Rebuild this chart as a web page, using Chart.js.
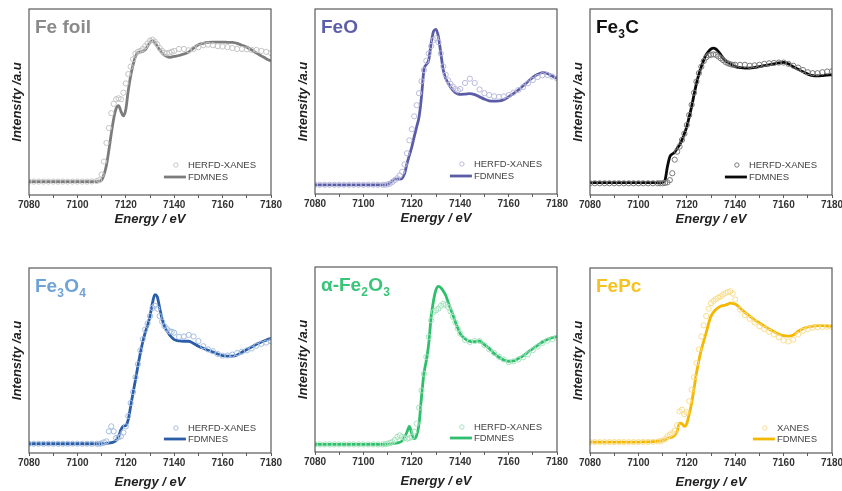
<!DOCTYPE html>
<html>
<head>
<meta charset="utf-8">
<script src="https://cdn.jsdelivr.net/npm/chart.js@4.4.1/dist/chart.umd.min.js"></script>
<style>
  html, body { margin: 0; padding: 0; background: #fff; }
  #wrap { position: relative; width: 842px; height: 491px; overflow: hidden; }
  #wrap canvas { position: absolute; }
</style>
</head>
<body>
<div id="wrap"></div>
<script>
// shared energy grid (eV)
const energy = [
  7080, 7082, 7084, 7086, 7088, 7090, 7092, 7094, 7096, 7098, 7100, 7102, 7104, 7106,
  7108, 7109, 7110, 7111, 7112, 7113, 7114, 7115, 7116, 7117, 7118, 7119, 7120, 7121,
  7122, 7123, 7124, 7125, 7126, 7127, 7128, 7129, 7130, 7131, 7132, 7133, 7134, 7135,
  7136, 7137, 7138, 7139, 7140,
  7142, 7144, 7146, 7148, 7150, 7152, 7154, 7156, 7158, 7160, 7162, 7164, 7166, 7168,
  7170, 7172, 7174, 7176, 7178, 7180
];
const xTicks = [7080, 7100, 7120, 7140, 7160, 7180];

// Fe foil
const feFoilExp = [
  0.072, 0.072, 0.072, 0.072, 0.072, 0.072, 0.072, 0.072, 0.072, 0.072, 0.072, 0.072, 0.072, 0.073,
  0.075, 0.08, 0.11, 0.18, 0.28, 0.36, 0.44, 0.49, 0.515, 0.52, 0.515, 0.55, 0.60, 0.65,
  0.69, 0.73, 0.76, 0.77, 0.775, 0.785, 0.80, 0.815, 0.83, 0.835, 0.825, 0.81, 0.79, 0.775,
  0.765, 0.762, 0.765, 0.77, 0.775,
  0.785, 0.785, 0.778, 0.785, 0.795, 0.805, 0.808, 0.805, 0.80, 0.798, 0.795, 0.79, 0.785, 0.785,
  0.783, 0.78, 0.78, 0.775, 0.77, 0.763
];
const feFoilCalc = [
  0.072, 0.072, 0.072, 0.072, 0.072, 0.072, 0.072, 0.072, 0.072, 0.072, 0.072, 0.072, 0.072, 0.072,
  0.072, 0.074, 0.08, 0.11, 0.16, 0.24, 0.33, 0.41, 0.465, 0.48, 0.45, 0.425, 0.46, 0.56,
  0.64, 0.70, 0.745, 0.765, 0.77, 0.772, 0.78, 0.80, 0.82, 0.83, 0.82, 0.80, 0.78, 0.763,
  0.752, 0.745, 0.74, 0.742, 0.745,
  0.75, 0.758, 0.768, 0.79, 0.808, 0.815, 0.82, 0.822, 0.822, 0.822, 0.821, 0.82, 0.815, 0.805,
  0.795, 0.78, 0.763, 0.748, 0.733, 0.72
];

// FeO
const feoExp = [
  0.05, 0.05, 0.05, 0.05, 0.05, 0.05, 0.05, 0.05, 0.05, 0.05, 0.05, 0.05, 0.05, 0.05,
  0.05, 0.05, 0.052, 0.056, 0.065, 0.075, 0.085, 0.10, 0.12, 0.16, 0.22, 0.29, 0.35, 0.42,
  0.48, 0.545, 0.61, 0.67, 0.72, 0.76, 0.80, 0.833, 0.842, 0.82, 0.76, 0.69, 0.645, 0.615,
  0.595, 0.58, 0.568, 0.56, 0.568,
  0.60, 0.623, 0.60, 0.565, 0.545, 0.535, 0.528, 0.525, 0.528, 0.535, 0.548, 0.562, 0.578, 0.598,
  0.616, 0.632, 0.642, 0.643, 0.635, 0.625
];
const feoCalc = [
  0.049, 0.049, 0.049, 0.049, 0.049, 0.049, 0.049, 0.049, 0.049, 0.049, 0.049, 0.049, 0.049, 0.049,
  0.049, 0.05, 0.052, 0.06, 0.072, 0.08, 0.082, 0.08, 0.085, 0.11, 0.163, 0.21, 0.254, 0.31,
  0.362, 0.417, 0.525, 0.67, 0.70, 0.725, 0.815, 0.88, 0.89, 0.85, 0.76, 0.67, 0.625, 0.60,
  0.578, 0.56, 0.548, 0.541, 0.538,
  0.54, 0.543, 0.537, 0.525, 0.513, 0.504, 0.502, 0.503, 0.51, 0.525, 0.543, 0.562, 0.585, 0.608,
  0.63, 0.647, 0.656, 0.652, 0.638, 0.625
];

// Fe3C
const fe3cExp = [
  0.063, 0.063, 0.063, 0.063, 0.063, 0.063, 0.063, 0.063, 0.063, 0.063, 0.063, 0.063, 0.063, 0.063,
  0.063, 0.063, 0.063, 0.065, 0.068, 0.08, 0.117, 0.19, 0.233, 0.26, 0.296, 0.33, 0.376, 0.43,
  0.485, 0.55, 0.61, 0.655, 0.69, 0.72, 0.74, 0.75, 0.754, 0.756, 0.754, 0.745, 0.735, 0.725,
  0.715, 0.708, 0.703, 0.70, 0.70,
  0.70, 0.70, 0.695, 0.697, 0.70, 0.705, 0.708, 0.71, 0.712, 0.712, 0.705, 0.695, 0.685, 0.672,
  0.66, 0.655, 0.655, 0.66, 0.664, 0.665
];
const fe3cCalc = [
  0.066, 0.066, 0.066, 0.066, 0.066, 0.066, 0.066, 0.066, 0.066, 0.066, 0.066, 0.066, 0.066, 0.066,
  0.066, 0.066, 0.068, 0.08, 0.153, 0.206, 0.22, 0.23, 0.25, 0.27, 0.296, 0.33, 0.368, 0.42,
  0.476, 0.54, 0.60, 0.65, 0.69, 0.725, 0.754, 0.772, 0.785, 0.79, 0.785, 0.772, 0.755, 0.736,
  0.722, 0.712, 0.705, 0.697, 0.69,
  0.685, 0.682, 0.682, 0.685, 0.69, 0.695, 0.70, 0.705, 0.71, 0.713, 0.705, 0.69, 0.676, 0.662,
  0.65, 0.642, 0.64, 0.642, 0.645, 0.646
];

// Fe3O4
const fe3o4Exp = [
  0.05, 0.05, 0.05, 0.05, 0.05, 0.05, 0.05, 0.05, 0.05, 0.05, 0.05, 0.05, 0.05, 0.05,
  0.05, 0.05, 0.052, 0.058, 0.063, 0.117, 0.144, 0.117, 0.081, 0.085, 0.09, 0.11, 0.144, 0.20,
  0.27, 0.33, 0.41, 0.48, 0.555, 0.615, 0.667, 0.70, 0.74, 0.784, 0.796, 0.78, 0.74, 0.71,
  0.685, 0.67, 0.658, 0.655, 0.65,
  0.628, 0.63, 0.638, 0.63, 0.605, 0.577, 0.56, 0.55, 0.535, 0.526, 0.527, 0.532, 0.54, 0.548,
  0.555, 0.565, 0.58, 0.59, 0.597, 0.604
];
const fe3o4Calc = [
  0.05, 0.05, 0.05, 0.05, 0.05, 0.05, 0.05, 0.05, 0.05, 0.05, 0.05, 0.05, 0.05, 0.05,
  0.05, 0.05, 0.05, 0.05, 0.052, 0.054, 0.056, 0.06, 0.068, 0.09, 0.126, 0.145, 0.148, 0.18,
  0.252, 0.325, 0.396, 0.47, 0.54, 0.60, 0.65, 0.69, 0.74, 0.81, 0.856, 0.845, 0.784, 0.725,
  0.685, 0.66, 0.64, 0.625, 0.613,
  0.606, 0.604, 0.604, 0.592, 0.577, 0.566, 0.555, 0.545, 0.535, 0.526, 0.524, 0.524, 0.53, 0.545,
  0.56, 0.573, 0.588, 0.60, 0.61, 0.62
];

// alpha-Fe2O3
const fe2o3Exp = [
  0.041, 0.041, 0.041, 0.041, 0.041, 0.041, 0.041, 0.041, 0.041, 0.041, 0.041, 0.041, 0.041, 0.041,
  0.041, 0.042, 0.045, 0.05, 0.054, 0.065, 0.081, 0.09, 0.081, 0.075, 0.072, 0.075, 0.081, 0.11,
  0.153, 0.24, 0.333, 0.423, 0.514, 0.622, 0.712, 0.757, 0.766, 0.775, 0.79, 0.80, 0.795, 0.784,
  0.76, 0.73, 0.70, 0.667, 0.64,
  0.606, 0.595, 0.60, 0.60, 0.577, 0.555, 0.535, 0.515, 0.50, 0.486, 0.49, 0.50, 0.512, 0.528,
  0.55, 0.57, 0.59, 0.602, 0.61, 0.618
];
const fe2o3Calc = [
  0.041, 0.041, 0.041, 0.041, 0.041, 0.041, 0.041, 0.041, 0.041, 0.041, 0.041, 0.041, 0.041, 0.041,
  0.041, 0.041, 0.042, 0.043, 0.045, 0.047, 0.049, 0.053, 0.06, 0.08, 0.108, 0.139, 0.10, 0.072,
  0.09, 0.153, 0.297, 0.423, 0.495, 0.586, 0.73, 0.82, 0.877, 0.895, 0.888, 0.87, 0.847, 0.81,
  0.775, 0.74, 0.703, 0.67, 0.64,
  0.612, 0.598, 0.597, 0.60, 0.58, 0.56, 0.532, 0.512, 0.497, 0.49, 0.492, 0.505, 0.52, 0.54,
  0.559, 0.577, 0.595, 0.608, 0.618, 0.625
];

// FePc
const fepcExp = [
  0.059, 0.059, 0.059, 0.059, 0.059, 0.059, 0.059, 0.059, 0.059, 0.059, 0.059, 0.06, 0.06, 0.061,
  0.062, 0.064, 0.068, 0.075, 0.09, 0.10, 0.108, 0.12, 0.15, 0.225, 0.234, 0.21, 0.22, 0.28,
  0.342, 0.41, 0.486, 0.56, 0.63, 0.69, 0.74, 0.78, 0.81, 0.822, 0.832, 0.84, 0.847, 0.856,
  0.865, 0.87, 0.874, 0.862, 0.83,
  0.775, 0.745, 0.725, 0.705, 0.685, 0.67, 0.655, 0.64, 0.625, 0.609, 0.603, 0.612, 0.64, 0.66,
  0.67, 0.677, 0.68, 0.682, 0.682, 0.682
];
const fepcCalc = [
  0.059, 0.059, 0.059, 0.059, 0.059, 0.059, 0.059, 0.059, 0.059, 0.059, 0.059, 0.06, 0.06, 0.062,
  0.064, 0.066, 0.068, 0.072, 0.079, 0.083, 0.086, 0.095, 0.117, 0.162, 0.158, 0.144, 0.16, 0.21,
  0.27, 0.35, 0.432, 0.50, 0.559, 0.605, 0.65, 0.70, 0.74, 0.76, 0.775, 0.785, 0.793, 0.797,
  0.80, 0.805, 0.81, 0.808, 0.805,
  0.784, 0.76, 0.74, 0.72, 0.703, 0.686, 0.67, 0.655, 0.643, 0.634, 0.632, 0.638, 0.658, 0.672,
  0.681, 0.686, 0.688, 0.688, 0.686, 0.685
];

const FONT = '"Liberation Sans", Arial, sans-serif';

// panel layout: canvas box [left, top, width, height] and chart area padding
const panels = [
  { title: [['Fe foil']], titleColor: '#8a8a8a', line: '#7c7c7c', dots: '#c4c4c4',
    exp: feFoilExp, calc: feFoilCalc, expLabel: 'HERFD-XANES',
    box: [0, 0, 290, 245], pad: { left: 29, right: 19, top: 9, bottom: 30 }, legendDy: [30, 18], xTitleDy: 24 },
  { title: [['FeO']], titleColor: '#5d5ea8', line: '#5a5ca6', dots: '#b9bade',
    exp: feoExp, calc: feoCalc, expLabel: 'HERFD-XANES',
    box: [280, 0, 290, 245], pad: { left: 35, right: 13, top: 9, bottom: 31 }, legendDy: [30, 18], xTitleDy: 24 },
  { title: [['Fe'], ['3', 'sub'], ['C']], titleColor: '#111111', line: '#0a0a0a', dots: '#7a7a7a',
    exp: fe3cExp, calc: fe3cCalc, expLabel: 'HERFD-XANES',
    box: [560, 0, 282, 245], pad: { left: 30, right: 10, top: 9, bottom: 30 }, legendDy: [30, 18], xTitleDy: 24 },
  { title: [['Fe'], ['3', 'sub'], ['O'], ['4', 'sub']], titleColor: '#6fa2d6', line: '#2b5da8', dots: '#a3bde0',
    exp: fe3o4Exp, calc: fe3o4Calc, expLabel: 'HERFD-XANES',
    box: [0, 250, 290, 241], pad: { left: 29, right: 19, top: 18, bottom: 18 }, legendDy: [25, 14], xTitleDy: 29 },
  { title: [['α-Fe'], ['2', 'sub'], ['O'], ['3', 'sub']], titleColor: '#38c577', line: '#2fbe6c', dots: '#a2e3bc',
    exp: fe2o3Exp, calc: fe2o3Calc, expLabel: 'HERFD-XANES',
    box: [280, 250, 290, 241], pad: { left: 35, right: 13, top: 17, bottom: 19 }, legendDy: [25, 14], xTitleDy: 29 },
  { title: [['FePc']], titleColor: '#f6c21f', line: '#f5b800', dots: '#f8dc8c',
    exp: fepcExp, calc: fepcCalc, expLabel: 'XANES',
    box: [560, 250, 282, 241], pad: { left: 30, right: 10, top: 18, bottom: 18 }, legendDy: [25, 14], xTitleDy: 29 }
];

// frame, title, legend and axis titles around each chart area
const panelDecor = {
  id: 'panelDecor',
  afterDraw(chart, args, o) {
    const { ctx, chartArea: a } = chart;
    ctx.save();
    ctx.strokeStyle = '#5a5a5a';
    ctx.lineWidth = 1.2;
    ctx.strokeRect(a.left, a.top, a.right - a.left, a.bottom - a.top);

    // panel title with subscripts
    ctx.fillStyle = o.titleColor;
    ctx.textBaseline = 'alphabetic';
    let tx = a.left + 6;
    const ty = a.top + 24;
    o.title.forEach(([txt, sub]) => {
      ctx.font = (sub ? 'bold 12px ' : 'bold 19px ') + FONT;
      ctx.fillText(txt, tx, sub ? ty + 5 : ty);
      tx += ctx.measureText(txt).width + (sub ? 0.5 : 0);
    });

    // legend
    ctx.font = '9.5px ' + FONT;
    const labels = [o.expLabel, 'FDMNES'];
    const w = Math.max(...labels.map(l => ctx.measureText(l).width));
    const lx = a.right - 15 - w;
    const y1 = a.bottom - o.legendDy[0];
    const y2 = a.bottom - o.legendDy[1];
    ctx.fillStyle = '#444';
    ctx.textBaseline = 'middle';
    ctx.fillText(labels[0], lx, y1);
    ctx.fillText(labels[1], lx, y2);
    ctx.strokeStyle = o.dots;
    ctx.lineWidth = 1;
    ctx.beginPath();
    ctx.arc(lx - 12, y1, 2.2, 0, Math.PI * 2);
    ctx.stroke();
    ctx.strokeStyle = o.line;
    ctx.lineWidth = 2.8;
    ctx.beginPath();
    ctx.moveTo(lx - 24, y2);
    ctx.lineTo(lx - 2, y2);
    ctx.stroke();

    // axis titles
    ctx.fillStyle = '#222';
    ctx.font = 'italic bold 13px ' + FONT;
    ctx.textAlign = 'center';
    ctx.fillText('Energy / eV', (a.left + a.right) / 2, a.bottom + o.xTitleDy);
    ctx.translate(a.left - 12, (a.top + a.bottom) / 2);
    ctx.rotate(-Math.PI / 2);
    ctx.fillText('Intensity /a.u', 0, 0);
    ctx.restore();
  }
};

const wrap = document.getElementById('wrap');

panels.forEach(p => {
  const canvas = document.createElement('canvas');
  const [left, top, width, height] = p.box;
  canvas.width = width;
  canvas.height = height;
  canvas.style.left = left + 'px';
  canvas.style.top = top + 'px';
  wrap.appendChild(canvas);

  new Chart(canvas.getContext('2d'), {
    type: 'scatter',
    data: {
      datasets: [
        {
          label: p.expLabel,
          data: energy.map((e, i) => ({ x: e, y: p.exp[i] })),
          showLine: false,
          pointRadius: 2.6,
          pointBorderWidth: 1,
          pointBorderColor: p.dots,
          pointBackgroundColor: 'rgba(255,255,255,0)'
        },
        {
          label: 'FDMNES',
          data: energy.map((e, i) => ({ x: e, y: p.calc[i] })),
          showLine: true,
          borderColor: p.line,
          borderWidth: 2.8,
          pointRadius: 0,
          cubicInterpolationMode: 'monotone'
        }
      ]
    },
    options: {
      responsive: false,
      animation: false,
      events: [],
      layout: { padding: p.pad },
      plugins: {
        legend: { display: false },
        tooltip: { enabled: false },
        panelDecor: p
      },
      scales: {
        x: {
          type: 'linear',
          min: 7080,
          max: 7180,
          afterBuildTicks: axis => {
            const t = [];
            for (let v = 7080; v <= 7180; v += 10) t.push({ value: v });
            axis.ticks = t;
          },
          afterFit: axis => {
            axis.height = 20;
            axis.paddingLeft = 0;
            axis.paddingRight = 0;
          },
          grid: { drawOnChartArea: false, drawTicks: true, tickLength: 3, color: '#5a5a5a', lineWidth: 1 },
          border: { display: false },
          ticks: {
            padding: 1,
            maxRotation: 0,
            autoSkip: false,
            color: '#333',
            font: { family: FONT, size: 10, weight: 'bold' },
            callback: v => (xTicks.includes(v) ? String(v) : '')
          }
        },
        y: { display: false, min: 0, max: 1 }
      }
    },
    plugins: [panelDecor]
  });
});
</script>
</body>
</html>
